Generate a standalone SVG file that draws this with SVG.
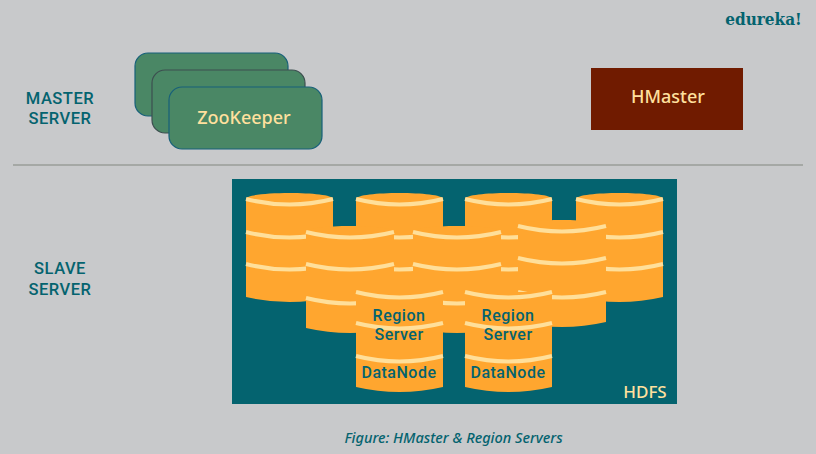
<svg xmlns="http://www.w3.org/2000/svg" width="816" height="454" viewBox="0 0 816 454">
<style>
text{font-family:"Noto Sans","Open Sans","Liberation Sans",sans-serif;text-anchor:middle}
.card{fill:#4A8765;stroke:#17607A;stroke-width:1.2}
.body{fill:#FFA62F}
.band{fill:none;stroke:#FFDF9A;stroke-width:4}
.side{font-family:Roboto,"Noto Sans",sans-serif;font-size:16.5px;font-weight:500;fill:#04636F;letter-spacing:.5px}
.cyl{font-family:Roboto,"Noto Sans",sans-serif;font-size:16px;font-weight:500;fill:#04636F;letter-spacing:.5px}
.cream{fill:#FFE09E;font-weight:500}
</style>
<defs>
<g id="tall">
<path class="body" d="M0 6C0 -2 87 -2 87 6V104Q43.5 114 0 104Z"/>
<path class="band" d="M0 6Q43.5 17 87 6"/>
<path class="band" d="M0 39Q43.5 50 87 39"/>
<path class="band" d="M0 71Q43.5 82 87 71"/>
</g>
<g id="mid">
<path class="body" d="M0 6C0 -2 88 -2 88 6V102Q44 112 0 102Z"/>
<path class="band" d="M0 6Q44 17 88 6"/>
<path class="band" d="M0 38Q44 49 88 38"/>
<path class="band" d="M0 72Q44 83 88 72"/>
</g>
<g id="low">
<path class="body" d="M0 0H87V95Q43.5 105 0 95Z"/>
<path class="band" d="M0 0Q43.5 11 87 0"/>
<path class="band" d="M0 31Q43.5 42 87 31"/>
<path class="band" d="M0 64Q43.5 75 87 64"/>
</g>
</defs>
<rect width="816" height="454" fill="#C8C9CB"/>
<text x="763.5" y="25" style="font-family:'DejaVu Serif',serif;font-weight:700;font-size:17px;font-stretch:condensed;fill:#04636F">edureka!</text>
<text class="side"><tspan x="60" y="104">MASTER</tspan><tspan x="60" y="124">SERVER</tspan></text>
<text class="side"><tspan x="60" y="274">SLAVE</tspan><tspan x="60" y="295">SERVER</tspan></text>
<g id="connectors"><path d="M13 165H803" stroke="#9A9C98" stroke-width="1.5" fill="none"/></g>
<g id="zk1"><rect class="card" x="135" y="53" width="153" height="63" rx="13"/></g>
<g id="zk2"><rect class="card" x="152" y="70" width="153" height="63" rx="13" style="stroke:#3D4F50"/></g>
<g id="zookeeper"><rect class="card" x="169" y="87" width="153" height="62" rx="13"/><text class="cream" x="244" y="124" font-size="18">ZooKeeper</text></g>
<g id="hmaster"><rect x="591" y="68" width="152" height="62" fill="#701B00"/><text class="cream" x="668" y="103" font-size="18">HMaster</text></g>
<g id="hdfs">
<rect x="232" y="179" width="445" height="225" fill="#04636F"/>
<text class="cream" x="645" y="398" font-size="17">HDFS</text>
</g>
<g id="cyl-a"><use href="#tall" x="246" y="193"/></g>
<g id="cyl-c"><use href="#tall" x="356" y="193"/></g>
<g id="cyl-f"><use href="#tall" x="465" y="193"/></g>
<g id="cyl-i"><use href="#tall" x="576" y="193"/></g>
<g id="cyl-b"><use href="#mid" x="306" y="226"/></g>
<g id="cyl-d"><use href="#mid" x="413" y="226"/></g>
<g id="cyl-h"><use href="#mid" x="518" y="220"/></g>
<g id="region1"><use href="#low" x="356" y="292"/><text class="cyl"><tspan x="399" y="321">Region</tspan><tspan x="399" y="340">Server</tspan></text><text class="cyl" x="399" y="378">DataNode</text></g>
<g id="region2"><use href="#low" x="465" y="292"/><text class="cyl"><tspan x="508" y="321">Region</tspan><tspan x="508" y="340">Server</tspan></text><text class="cyl" x="508" y="378">DataNode</text></g>
<text x="453.5" y="443" font-size="14.5" font-style="italic" font-weight="500" fill="#04636F">Figure: HMaster &amp; Region Servers</text>
</svg>
